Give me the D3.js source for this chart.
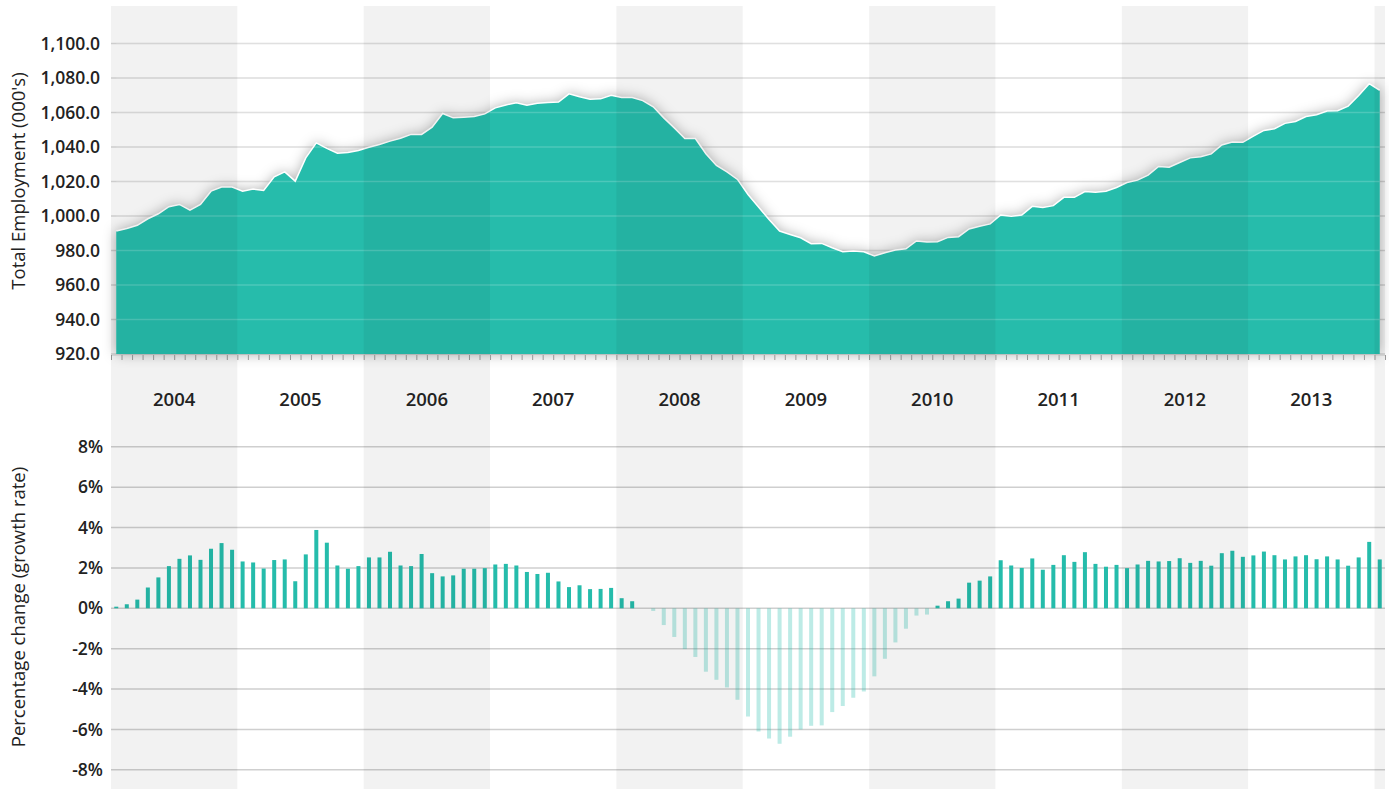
<!DOCTYPE html>
<html>
<head>
<meta charset="utf-8">
<script src="https://cdn.jsdelivr.net/npm/d3@7"></script>
<style>
  body { margin: 0; background: #fff; }
  text { font-family: "Open Sans", sans-serif; fill: #222; }
</style>
</head>
<body>
<svg width="1389" height="789"></svg>
<script>
// monthly series, Jan 2004 .. Jan 2014
var years = [2004, 2005, 2006, 2007, 2008, 2009, 2010, 2011, 2012, 2013];

var employment = [
  991.3, 992.8, 994.6, 998.4, 1001.3, 1005.4, 1006.7, 1003.4, 1006.7, 1014.4, 1016.8, 1016.8,
  1014.4, 1015.6, 1014.8, 1022.7, 1025.6, 1020.2, 1033.7, 1042.4, 1039.2, 1036.4, 1036.8, 1038.0,
  1039.9, 1041.5, 1043.4, 1045.1, 1047.3, 1047.3, 1051.5, 1059.4, 1056.9, 1057.3, 1057.7, 1059.2,
  1062.7, 1064.4, 1065.6, 1064.2, 1065.4, 1065.8, 1066.1, 1070.8, 1069.1, 1067.7, 1067.9, 1070.0,
  1068.7, 1068.7, 1066.9, 1063.3, 1056.9, 1051.1, 1044.9, 1044.9, 1036.1, 1029.3, 1025.6, 1021.2,
  1012.5, 1005.2, 998.0, 991.3, 989.3, 987.4, 983.9, 984.1, 981.6, 979.3, 979.7, 979.3,
  976.8, 978.7, 980.3, 981.0, 985.5, 984.9, 985.1, 987.6, 988.0, 992.5, 994.0, 995.4,
  1000.6, 999.8, 1000.6, 1005.6, 1005.0, 1006.0, 1010.8, 1010.8, 1014.2, 1013.8, 1014.4, 1016.5,
  1019.4, 1020.8, 1023.7, 1028.7, 1028.3, 1031.0, 1033.7, 1034.4, 1036.0, 1041.2, 1042.9, 1042.7,
  1046.3, 1049.6, 1050.6, 1053.7, 1054.8, 1057.7, 1058.7, 1060.8, 1061.0, 1063.7, 1069.8, 1076.7,
  1072.9
];

var growth = [
  0.08, 0.2, 0.43, 1.03, 1.53, 2.09, 2.45, 2.62, 2.4, 2.95, 3.23, 2.9,
  2.32, 2.27, 1.97, 2.39, 2.42, 1.34, 2.67, 3.88, 3.25, 2.12, 1.96, 2.09,
  2.52, 2.52, 2.8, 2.12, 2.09, 2.69, 1.74, 1.58, 1.63, 1.96, 1.96, 1.99,
  2.17, 2.2, 2.12, 1.8, 1.7, 1.76, 1.33, 1.05, 1.14, 0.95, 0.96, 1.01,
  0.5, 0.35, 0.0, -0.13, -0.83, -1.42, -2.02, -2.41, -3.14, -3.54, -3.92, -4.53,
  -5.36, -6.1, -6.45, -6.71, -6.36, -6.0, -5.82, -5.8, -5.14, -4.84, -4.43, -4.12,
  -3.37, -2.5, -1.69, -1.01, -0.36, -0.31, 0.13, 0.35, 0.48, 1.27, 1.37, 1.58,
  2.38, 2.12, 2.0, 2.47, 1.91, 2.15, 2.63, 2.3, 2.78, 2.2, 2.06, 2.15,
  1.99, 2.17, 2.35, 2.32, 2.34, 2.48, 2.25, 2.35, 2.11, 2.73, 2.85, 2.55,
  2.62, 2.81, 2.63, 2.42, 2.57, 2.63, 2.43, 2.57, 2.42, 2.11, 2.52, 3.29,
  2.42
];

var empTicks = [920, 940, 960, 980, 1000, 1020, 1040, 1060, 1080, 1100];
var pctTicks = [-8, -6, -4, -2, 0, 2, 4, 6, 8];

var teal = "#25bcab";
var svg = d3.select("svg");

var left = 111, right = 1385;
var nMonths = employment.length;

var x = d3.scaleLinear().domain([0, nMonths]).range([left, right]);
var yTop = d3.scaleLinear().domain([920, 1120]).range([354, 9]);
var yBot = d3.scaleLinear().domain([-9, 9]).range([790, 426.6]);

// drop shadow for the area
var defs = svg.append("defs");
var f = defs.append("filter").attr("id", "shadow")
  .attr("x", "-5%").attr("y", "-30%").attr("width", "110%").attr("height", "160%");
f.append("feDropShadow")
  .attr("dx", 0).attr("dy", 0)
  .attr("stdDeviation", 6.5)
  .attr("flood-color", "#000")
  .attr("flood-opacity", 0.32);

// ---- top chart ----
var gTop = svg.append("g");

gTop.selectAll(".grid")
  .data(empTicks)
  .enter()
  .append("line")
  .attr("x1", left).attr("x2", right)
  .attr("y1", d => yTop(d)).attr("y2", d => yTop(d))
  .attr("stroke", "#d9d9d9")
  .attr("stroke-width", 1.5);

var area = d3.area()
  .x((d, i) => x(i + 0.5))
  .y0(yTop(920))
  .y1(d => yTop(d));

var line = d3.line()
  .x((d, i) => x(i + 0.5))
  .y(d => yTop(d));

gTop.append("path")
  .datum(employment)
  .attr("d", area)
  .attr("fill", teal)
  .attr("filter", "url(#shadow)");

gTop.append("path")
  .datum(employment)
  .attr("d", line)
  .attr("fill", "none")
  .attr("stroke", "#fff")
  .attr("stroke-width", 1.5);

// lighter gridlines showing through the area
gTop.selectAll(".gridOver")
  .data(empTicks.slice(1))
  .enter()
  .append("line")
  .attr("x1", x(0.5)).attr("x2", x(nMonths - 0.5))
  .attr("y1", d => yTop(d)).attr("y2", d => yTop(d))
  .attr("stroke", "#fff")
  .attr("stroke-opacity", 0.18)
  .attr("stroke-width", 1.5);

var xAxis = d3.axisBottom(x)
  .tickValues(d3.range(0, nMonths + 1))
  .tickSize(5)
  .tickFormat("");

var ax = gTop.append("g")
  .attr("transform", "translate(0,355)")
  .call(xAxis);
ax.select(".domain").attr("stroke", "#ddd");
ax.selectAll(".tick line").attr("stroke", "#999");

gTop.selectAll(".ylab")
  .data(empTicks)
  .enter()
  .append("text")
  .attr("x", 100)
  .attr("y", d => yTop(d))
  .attr("dy", "0.35em")
  .attr("text-anchor", "end")
  .style("font-size", "17.5px")
  .style("font-weight", 600)
  .text(d => d3.format(",.1f")(d));

svg.append("text")
  .attr("transform", "translate(25,181) rotate(-90)")
  .attr("text-anchor", "middle")
  .style("font-size", "18.5px")
  .style("font-weight", 400)
  .text("Total Employment (000's)");

// ---- bottom chart ----
var gBot = svg.append("g");

gBot.selectAll(".grid")
  .data(pctTicks)
  .enter()
  .append("line")
  .attr("x1", left).attr("x2", right)
  .attr("y1", d => yBot(d)).attr("y2", d => yBot(d))
  .attr("stroke", "#cfcfcf")
  .attr("stroke-width", 1.5);

gBot.selectAll(".bar")
  .data(growth)
  .enter()
  .append("rect")
  .attr("x", (d, i) => x(i + 0.5) - 2)
  .attr("width", 4)
  .attr("y", d => yBot(Math.max(0, d)))
  .attr("height", d => Math.abs(yBot(d) - yBot(0)))
  .attr("fill", teal)
  .attr("fill-opacity", d => d < 0 ? 0.3 : 1);

gBot.selectAll(".ylab")
  .data(pctTicks)
  .enter()
  .append("text")
  .attr("x", 103)
  .attr("y", d => yBot(d))
  .attr("dy", "0.35em")
  .attr("text-anchor", "end")
  .style("font-size", "17.5px")
  .style("font-weight", 600)
  .text(d => d + "%");

svg.append("text")
  .attr("transform", "translate(25,607) rotate(-90)")
  .attr("text-anchor", "middle")
  .style("font-size", "18.5px")
  .style("font-weight", 400)
  .text("Percentage change (growth rate)");

// ---- alternating year bands ----
var bandYears = years.concat([2014]);
svg.append("g")
  .selectAll("rect")
  .data(bandYears.filter((d, i) => i % 2 === 0))
  .enter()
  .append("rect")
  .attr("x", d => x((d - years[0]) * 12))
  .attr("width", d => Math.min(x((d - years[0]) * 12 + 12), right) - x((d - years[0]) * 12))
  .attr("y", 6)
  .attr("height", 783)
  .attr("fill", "#000")
  .attr("fill-opacity", 0.05)
  .style("pointer-events", "none");

svg.append("g")
  .selectAll("text")
  .data(years)
  .enter()
  .append("text")
  .attr("x", d => x((d - years[0]) * 12 + 6))
  .attr("y", 400)
  .attr("dy", "0.35em")
  .attr("text-anchor", "middle")
  .style("font-size", "18.5px")
  .style("font-weight", 600)
  .text(d => d);
</script>
</body>
</html>
